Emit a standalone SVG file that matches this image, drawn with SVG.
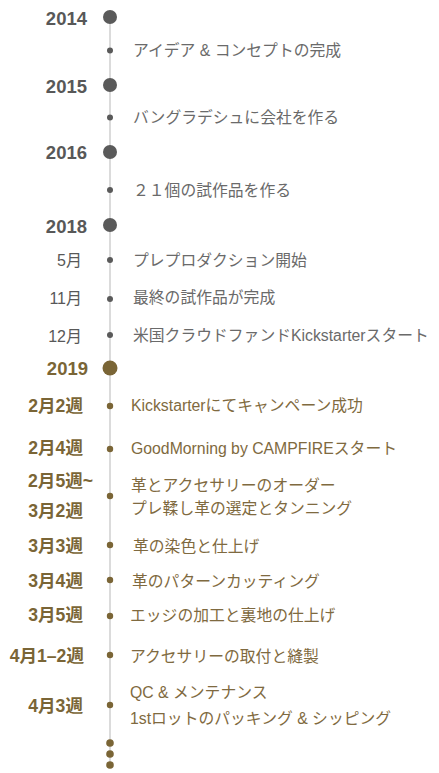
<svg xmlns="http://www.w3.org/2000/svg" width="439" height="773" viewBox="0 0 439 773">
<style>
text{font-family:"Liberation Sans","Noto Sans CJK JP",sans-serif}
.yr{font-size:18.5px;font-weight:bold;fill:#585858;text-anchor:end}
.yrg{font-size:18.5px;font-weight:bold;fill:#7a6536;text-anchor:end}
.mo{font-size:16px;fill:#585858;text-anchor:end}
.wk{font-size:17.6px;font-weight:bold;fill:#7a6536;text-anchor:end}
.ev{font-size:15.8px;fill:#6a6a6a}
.evg{font-size:15.8px;fill:#7f6a40}
.big{fill:#5a5a5a}
.bigg{fill:#7a6536}
.sm{fill:#5a5a5a}
.smg{fill:#7a6536}
</style>
<rect width="439" height="773" fill="#fff"/>
<g id="connectors">
<line x1="110" y1="17" x2="110" y2="762" stroke="#cfcfcf" stroke-width="1.5"/>
</g>
<g id="y2014"><circle class="big" cx="110" cy="17" r="7"/><text class="yr" x="87" y="25">2014</text></g>
<g id="e1"><circle class="sm" cx="110" cy="50.5" r="3"/><text class="ev" x="133" y="56">アイデア &amp; コンセプトの完成</text></g>
<g id="y2015"><circle class="big" cx="110" cy="85" r="7"/><text class="yr" x="87" y="93">2015</text></g>
<g id="e2"><circle class="sm" cx="110" cy="117.5" r="3"/><text class="ev" x="133" y="123">バングラデシュに会社を作る</text></g>
<g id="y2016"><circle class="big" cx="110" cy="152" r="7"/><text class="yr" x="87" y="159">2016</text></g>
<g id="e3"><circle class="sm" cx="110" cy="190" r="3"/><text class="ev" x="133" y="196">２１個の試作品を作る</text></g>
<g id="y2018"><circle class="big" cx="110" cy="225" r="7"/><text class="yr" x="87" y="233">2018</text></g>
<g id="e4"><circle class="sm" cx="110" cy="260" r="3"/><text class="mo" x="82" y="266">5月</text><text class="ev" x="133" y="266">プレプロダクション開始</text></g>
<g id="e5"><circle class="sm" cx="110" cy="299" r="3"/><text class="mo" x="82" y="304">11月</text><text class="ev" x="133" y="303">最終の試作品が完成</text></g>
<g id="e6"><circle class="sm" cx="110" cy="335" r="3"/><text class="mo" x="82" y="342">12月</text><text class="ev" x="133" y="341">米国クラウドファンドKickstarterスタート</text></g>
<g id="y2019"><circle class="bigg" cx="110" cy="368" r="7.5"/><text class="yrg" x="88" y="375">2019</text></g>
<g id="g1"><circle class="smg" cx="110" cy="406" r="3.2"/><text class="wk" x="83" y="412">2月2週</text><text class="evg" x="131" y="411">Kickstarterにてキャンペーン成功</text></g>
<g id="g2"><circle class="smg" cx="110" cy="449" r="3.2"/><text class="wk" x="83" y="454">2月4週</text><text class="evg" x="131" y="454">GoodMorning by CAMPFIREスタート</text></g>
<g id="g3"><circle class="smg" cx="110" cy="496" r="3.2"/><text class="wk" x="28" y="487" style="text-anchor:start">2月5週~</text><text class="wk" x="83" y="517">3月2週</text><text class="evg" x="131" y="491">革とアクセサリーのオーダー</text><text class="evg" x="131" y="514">プレ鞣し革の選定とタンニング</text></g>
<g id="g4"><circle class="smg" cx="110" cy="545" r="3.2"/><text class="wk" x="83" y="552">3月3週</text><text class="evg" x="133" y="552">革の染色と仕上げ</text></g>
<g id="g5"><circle class="smg" cx="110" cy="580" r="3.2"/><text class="wk" x="83" y="587">3月4週</text><text class="evg" x="132" y="587">革のパターンカッティング</text></g>
<g id="g6"><circle class="smg" cx="110" cy="616" r="3.2"/><text class="wk" x="83" y="621">3月5週</text><text class="evg" x="130" y="621">エッジの加工と裏地の仕上げ</text></g>
<g id="g7"><circle class="smg" cx="110" cy="655" r="3.2"/><text class="wk" x="84" y="662">4月1–2週</text><text class="evg" x="130" y="662">アクセサリーの取付と縫製</text></g>
<g id="g8"><circle class="smg" cx="110" cy="705" r="3.2"/><text class="wk" x="83" y="712">4月3週</text><text class="evg" x="130" y="698">QC &amp; メンテナンス</text><text class="evg" x="130" y="724">1stロットのパッキング &amp; シッピング</text></g>
<g id="more"><circle class="smg" cx="110" cy="743" r="3.8"/><circle class="smg" cx="110" cy="754" r="3.8"/><circle class="smg" cx="110" cy="765" r="3.8"/></g>
</svg>
